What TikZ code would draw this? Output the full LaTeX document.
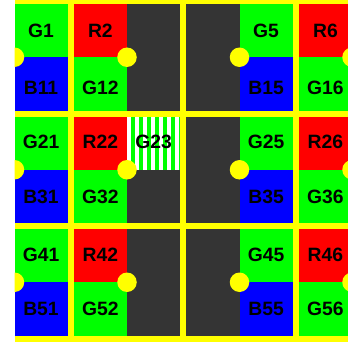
\documentclass[tikz,border=0pt]{standalone}
\usepackage{fontspec}
\setmainfont{Liberation Sans}
\definecolor{cg}{RGB}{0,255,0}
\definecolor{cr}{RGB}{255,0,0}
\definecolor{cb}{RGB}{0,0,255}
\definecolor{cd}{RGB}{52,52,52}
\definecolor{cy}{RGB}{255,255,0}
\begin{document}
\begin{tikzpicture}[x=1pt,y=-1pt,
  lab/.style={inner sep=0pt,anchor=center,text=black,font=\fontsize{19.3}{21}\selectfont\bfseries},
  gridline/.style={draw=cy,line width=6pt},
  dot/.style={fill=cy}]
\useasboundingbox (0,0) rectangle (348,345);
\fill[white] (0,0) rectangle (348,345);
\begin{scope}
\clip (14.5,0) rectangle (348,341.5);
\foreach \b in {0,1,2}{
  \pgfmathsetmacro\ya{1+112.5*\b}
  \pgfmathsetmacro\yb{\ya+56.25}
  \pgfmathsetmacro\yc{\ya+112.5}
  \fill[cg] (14.5,\ya) rectangle (70.75,\yb);
  \fill[cb] (14.5,\yb) rectangle (70.75,\yc);
  \fill[cr] (70.75,\ya) rectangle (127,\yb);
  \fill[cg] (70.75,\yb) rectangle (127,\yc);
  \fill[cd] (127,\ya) rectangle (239.5,\yc);
  \fill[cg] (239.5,\ya) rectangle (295.75,\yb);
  \fill[cb] (239.5,\yb) rectangle (295.75,\yc);
  \fill[cr] (295.75,\ya) rectangle (352,\yb);
  \fill[cg] (295.75,\yb) rectangle (352,\yc);
}
% striped cell G23
\fill[white] (127,113.5) rectangle (183.25,169.75);
\foreach \k in {0,...,6}{
  \fill[cg] ({131+8*\k},113.5) rectangle ({135+8*\k},169.75);
}
% yellow grid lines
\foreach \y in {1,113.5,226,338.5}{
  \draw[gridline] (14.5,\y) -- (352,\y);
}
\foreach \x in {70.75,183.25,295.75}{
  \draw[gridline] (\x,-3) -- (\x,341.5);
}
% dots
\foreach \y in {57.25,169.75,282.25}{
  \foreach \x in {14.5,127,239.5,352}{
    \fill[dot] (\x,\y) circle (9.75);
  }
}
\end{scope}
% labels
\node[lab] (G1) at (41,31) {G1};
\node[lab] (R2) at (100.4,31) {R2};
\node[lab] (G5) at (266.1,31) {G5};
\node[lab] (R6) at (325.4,31) {R6};
\node[lab] (B11) at (41,88) {B11};
\node[lab] (G12) at (100.4,88) {G12};
\node[lab] (B15) at (266.1,88) {B15};
\node[lab] (G16) at (325.4,88) {G16};
\node[lab] (G21) at (41,142) {G21};
\node[lab] (R22) at (100.4,142) {R22};
\node[lab] (G23) at (153.6,142) {G23};
\node[lab] (G25) at (266.1,142) {G25};
\node[lab] (R26) at (325.4,142) {R26};
\node[lab] (B31) at (41,197) {B31};
\node[lab] (G32) at (100.4,197) {G32};
\node[lab] (B35) at (266.1,197) {B35};
\node[lab] (G36) at (325.4,197) {G36};
\node[lab] (G41) at (41,255) {G41};
\node[lab] (R42) at (100.4,255) {R42};
\node[lab] (G45) at (266.1,255) {G45};
\node[lab] (R46) at (325.4,255) {R46};
\node[lab] (B51) at (41,309) {B51};
\node[lab] (G52) at (100.4,309) {G52};
\node[lab] (B55) at (266.1,309) {B55};
\node[lab] (G56) at (325.4,309) {G56};
\end{tikzpicture}
\end{document}
